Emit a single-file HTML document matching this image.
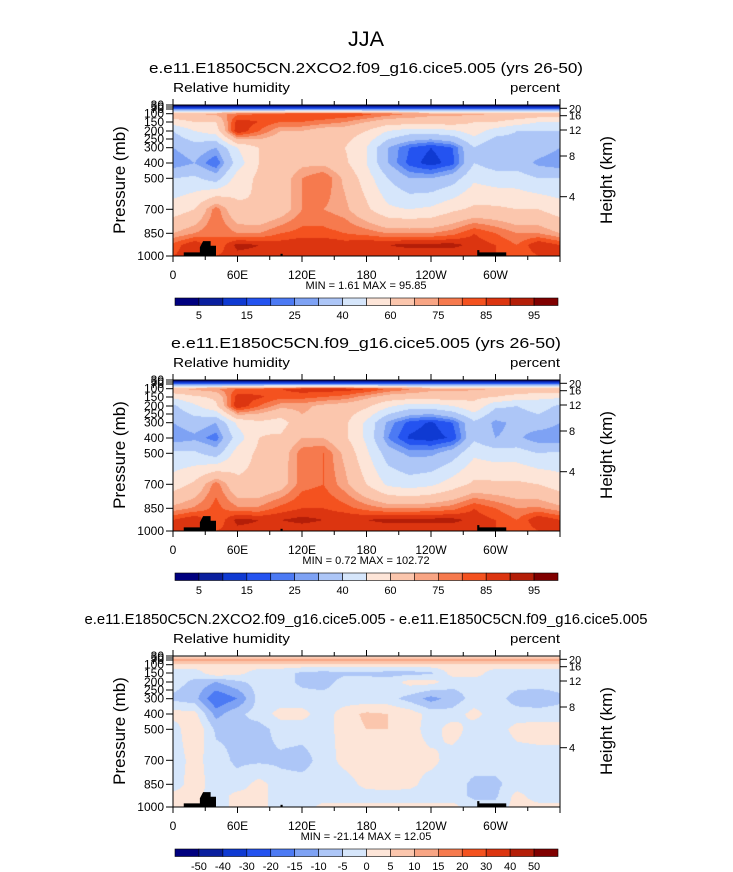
<!DOCTYPE html>
<html><head><meta charset="utf-8">
<style>
body{margin:0;background:#fff;}
#root{position:relative;width:733px;height:872px;overflow:hidden;font-family:"Liberation Sans",sans-serif;}
canvas{position:absolute;}
svg{position:absolute;left:0;top:0;}
</style></head>
<body>
<div id="root">
<canvas id="c1" width="387" height="151" style="left:173px;top:105px"></canvas>
<canvas id="c2" width="387" height="151" style="left:173px;top:380px"></canvas>
<canvas id="c3" width="387" height="151" style="left:173px;top:656px"></canvas>
<svg id="ov" width="733" height="872"></svg>
</div>
<script>
const levels=[30,70,100,150,200,300,400,500,700,850,925,1000];
const lons=[0,20,40,60,80,100,120,140,160,180,200,220,240,260,280,300,320,340,360];
const rhBounds=[5,10,15,20,25,30,40,50,60,70,75,80,85,90,95];
const diffBounds=[-50,-40,-30,-20,-15,-10,-5,0,5,10,15,20,30,40,50];
const rhLabels=["5","15","25","40","60","75","85","95"];
const diffLabels=["-50","-40","-30","-20","-15","-10","-5","0","5","10","15","20","30","40","50"];
const xTickLabels=["0","60E","120E","180","120W","60W"];
const pTickValues=[30,50,70,100,150,200,250,300,400,500,700,850,1000];
const hTickValues=[4,8,12,16,20];
const palette=['#00007f','#0a1f9e','#0f3ad2','#2453f0','#4c7af4','#7ea2f4','#adc6f7','#d6e6fb','#fde5d8','#fbc6ad','#f8a584','#f67a4e','#f4521f','#dc3510','#b41e08','#800000'];
const rh1=[
[2,2,2,2,2,2,2,2,2,2,2,2,2,2,2,2,2,2,2],
[20,20,20,20,20,20,20,20,20,20,20,20,20,20,20,20,20,20,20],
[68,70,72,78,80,82,85,85,85,82,78,75,72,72,72,70,70,68,68],
[55,60,60,88,85,80,80,78,75,70,65,65,65,65,60,60,55,50,50],
[40,50,55,90,80,70,70,65,65,60,50,45,45,48,55,45,40,40,40],
[30,35,30,50,60,60,65,65,60,50,30,20,15,20,40,30,35,35,30],
[25,30,20,45,60,62,68,68,62,50,30,18,12,18,40,35,35,28,25],
[40,42,35,55,62,65,75,80,68,55,40,30,30,35,48,45,45,40,40],
[55,60,78,62,60,65,75,75,72,62,52,50,52,58,62,62,60,60,55],
[70,75,80,75,75,80,82,82,80,78,75,75,75,78,85,80,75,75,70],
[82,90,80,92,90,88,90,90,88,90,90,92,92,92,88,85,80,90,85],
[85,88,85,88,88,85,85,85,85,85,85,85,85,85,85,85,80,85,85]];
const rh2=[
[2,2,2,2,2,2,2,2,2,2,2,2,2,2,2,2,2,2,2],
[20,20,20,20,20,20,20,20,20,20,20,20,20,20,20,20,20,20,20],
[70,72,75,80,82,85,88,88,88,86,80,76,72,72,72,70,70,68,70],
[52,58,62,88,86,82,82,80,78,72,66,65,65,65,62,60,55,52,52],
[38,48,58,90,80,72,72,68,66,62,52,45,45,50,58,42,40,45,38],
[30,35,30,52,58,55,68,66,62,48,28,18,14,20,38,28,32,35,30],
[25,28,22,45,60,62,70,70,62,48,25,14,12,16,38,30,32,25,25],
[42,42,35,55,62,65,78,80,68,52,35,28,28,35,48,45,45,40,42],
[55,62,78,62,62,66,78,80,72,60,48,45,48,55,62,62,62,60,55],
[72,76,82,76,76,82,85,85,82,78,75,75,76,78,85,80,75,76,72],
[85,90,80,92,90,90,92,90,90,90,92,92,92,92,88,85,80,90,85],
[85,88,85,88,88,85,86,85,85,85,85,85,85,85,85,85,80,85,85]];
const diff=[
[2,2,2,2,2,2,2,2,2,2,2,2,2,2,2,2,2,2,2],
[12,12,12,12,12,12,12,12,12,12,12,12,12,12,12,12,12,12,12],
[3,3,3,4,3,3,3,3,3,3,3,3,3,3,3,3,3,3,3],
[-3,-3,4,2,-3,-3,-6,-7,-6,-6,-7,-7,-6,2,3,-3,-3,-3,-3],
[-3,-6,-10,-6,-3,-3,-6,-7,-3,-3,-3,2,2,-3,-3,-3,-3,-3,-3],
[-6,-8,-20,-15,-3,-3,-3,-3,-3,-3,-3,-7,-12,-8,-3,-3,-7,-8,-6],
[2,2,-12,-6,-3,2,2,-3,3,6,5,3,-2,-3,2,-3,-3,-3,-3],
[-3,5,-6,-6,-7,-3,-3,-3,3,5,5,3,-3,3,-3,-3,2,3,3],
[-3,2,-3,-6,-6,-6,-7,-3,2,4,3,2,2,-3,-3,-3,-3,-3,-3],
[-3,3,-3,-3,2,-3,-3,-3,-3,2,3,2,-3,-3,-6,-6,-3,-3,-3],
[2,2,-3,2,2,-3,-3,-3,-3,-3,-3,-3,-3,-3,-6,-6,2,-3,-3],
[2,2,-3,2,2,-3,-3,2,2,2,2,2,2,2,-3,-3,2,2,2]];

const W=387,H=151,X0=173;
const pAx=[30,50,70,100,150,200,250,300,400,500,700,850,925,1000];
const yAx=[0,2,4,8.7,17,26,34,42.7,58,73.3,104.3,128.3,140,151];
function yOf(p){for(let i=0;i<pAx.length-1;i++){if(p>=pAx[i]&&p<=pAx[i+1]){const t=(p-pAx[i])/(pAx[i+1]-pAx[i]);return yAx[i]+t*(yAx[i+1]-yAx[i]);}}return p<30?0:151;}
function xOf(lon){return lon/360*W;}
function hexRGB(h){return [parseInt(h.substr(1,2),16),parseInt(h.substr(3,2),16),parseInt(h.substr(5,2),16)];}
const palRGB=palette.map(hexRGB);
const levY=levels.map(yOf);
function draw(id,grid,bounds){
  const ctx=document.getElementById(id).getContext('2d');
  const img=ctx.createImageData(W,H);
  for(let py=0;py<H;py++){
    const yy=py+0.5;let k=0;
    while(k<levY.length-2&&yy>levY[k+1])k++;
    let ty=(yy-levY[k])/(levY[k+1]-levY[k]);ty=Math.max(0,Math.min(1,ty));
    for(let px=0;px<W;px++){
      const lon=(px+0.5)/W*360;let j=Math.min(lons.length-2,Math.floor(lon/20));
      const tx=(lon-lons[j])/20;
      const v=(grid[k][j]*(1-tx)+grid[k][j+1]*tx)*(1-ty)+(grid[k+1][j]*(1-tx)+grid[k+1][j+1]*tx)*ty;
      let c=0;while(c<bounds.length&&v>=bounds[c])c++;
      const rgb=palRGB[c],o=(py*W+px)*4;
      img.data[o]=rgb[0];img.data[o+1]=rgb[1];img.data[o+2]=rgb[2];img.data[o+3]=255;
    }
  }
  ctx.putImageData(img,0,0);
}
draw('c1',rh1,rhBounds);draw('c2',rh2,rhBounds);draw('c3',diff,diffBounds);

const svg=document.getElementById('ov');const NS='http://www.w3.org/2000/svg';
function mk(tag,attrs,name,parent){const e=document.createElementNS(NS,tag);for(const a in attrs)e.setAttribute(a,attrs[a]);


(parent||svg).appendChild(e);return e;}
function txt(x,y,s,size,anchor,name,extra){const t=mk('text',Object.assign({x:x,y:y,'font-size':size,'text-anchor':anchor||'middle','font-family':'Liberation Sans, sans-serif',fill:'#000'},extra||{}),name);t.textContent=s;return t;}
txt(366,46,'JJA',21,'middle','main-title',{textLength:36,lengthAdjust:'spacingAndGlyphs'});
const hKm=[[4,196.7],[8,156],[12,130],[16,115.7],[20,108.3]];
function panel(top,title,titleLen,grid,minmax,bounds,labels,diffMode){
  txt(366,top-32,title,15,'middle','panel-title',{textLength:titleLen,lengthAdjust:'spacingAndGlyphs'});
  txt(173,top-13,'Relative humidity',13,'start','variable-label',{textLength:117,lengthAdjust:'spacingAndGlyphs'});
  txt(560,top-13,'percent',13,'end','units-label',{textLength:50,lengthAdjust:'spacingAndGlyphs'});
  const g=mk('g',{transform:'translate(173,'+top+')'},'orography');
  const land=[[10,1000],[10,975],[25,975],[25,940],[28,900],[35,900],[35,930],[40,930],[40,1000]];
  mk('polygon',{points:land.map(q=>xOf(q[0])+','+yOf(q[1])).join(' '),fill:'#000'},'land-africa',g);
  mk('polygon',{points:[[100,1000],[100,985],[102,985],[102,1000]].map(q=>xOf(q[0])+','+yOf(q[1])).join(' '),fill:'#000'},'land-asia',g);
  mk('polygon',{points:[[283,1000],[283,960],[285,960],[285,975],[310,975],[310,1000]].map(q=>xOf(q[0])+','+yOf(q[1])).join(' '),fill:'#000'},'land-andes',g);
  mk('rect',{x:173,y:top,width:W,height:H,fill:'none',stroke:'#000','stroke-width':1},'plot-frame');
  for(let i=0;i<=12;i++){const x=X0+xOf(i*30);
    mk('line',{x1:x,y1:top+H,x2:x,y2:top+H+(i%2==0?6:4),stroke:'#000'},'x-tick');
    mk('line',{x1:x,y1:top,x2:x,y2:top-(i%2==0?6:4),stroke:'#000'},'x-tick-top');}
  xTickLabels.forEach((s,i)=>txt(X0+xOf(i*60),top+H+23,s,12,'middle','x-tick-label'));
  pTickValues.forEach(p=>{const y=top+yOf(p);mk('line',{x1:173,y1:y,x2:166,y2:y,stroke:'#000'},'y-tick');txt(164,y+4,String(p),12,'end','y-tick-label');});
  hKm.forEach(h=>{const y=top+(h[1]-105);mk('line',{x1:560,y1:y,x2:567,y2:y,stroke:'#000'},'height-tick');txt(569,y+4,String(h[0]),11,'start','height-tick-label');});
  txt(125,top+75,'Pressure (mb)',17,'middle','y-axis-title',{transform:'rotate(-90 125 '+(top+75)+')'});
  txt(612,top+75,'Height (km)',17,'middle','right-axis-title',{transform:'rotate(-90 612 '+(top+75)+')'});
  txt(366,top+184,minmax,11,'middle','min-max-label',{'xml:space':'preserve'});
  const cbY=top+193,cbX=175,cbW=383/16;
  for(let i=0;i<16;i++)mk('rect',{x:cbX+i*cbW,y:cbY,width:cbW,height:7.5,fill:palette[i],stroke:'#000','stroke-width':0.6},'colorbar-box');
  labels.forEach((s,i)=>{const b=diffMode?i+1:2*i+1;txt(cbX+b*cbW,cbY+21,s,11,'middle','colorbar-label');});
}
panel(105,'e.e11.E1850C5CN.2XCO2.f09_g16.cice5.005 (yrs 26-50)',434,rh1,'MIN =   1.61  MAX =  95.85',rhBounds,rhLabels,false);
panel(380,'e.e11.E1850C5CN.f09_g16.cice5.005 (yrs 26-50)',390,rh2,'MIN =   0.72  MAX = 102.72',rhBounds,rhLabels,false);
panel(656,'e.e11.E1850C5CN.2XCO2.f09_g16.cice5.005 - e.e11.E1850C5CN.f09_g16.cice5.005',563,diff,'MIN = -21.14  MAX =  12.05',diffBounds,diffLabels,true);
</script>
</body></html>
